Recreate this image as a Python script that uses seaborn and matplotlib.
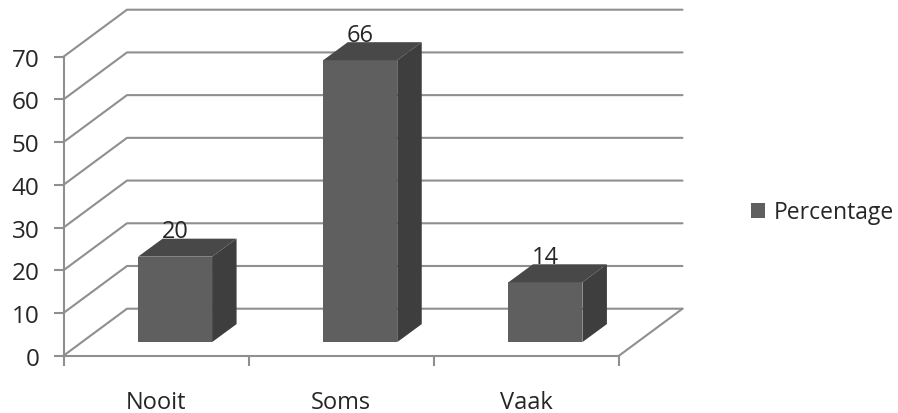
import matplotlib
matplotlib.use("Agg")
import matplotlib.pyplot as plt
from matplotlib.patches import Polygon
import seaborn as sns

categories = ["Nooit", "Soms", "Vaak"]
percentages = [20, 66, 14]
y_ticks = [0, 10, 20, 30, 40, 50, 60, 70]
series_name = "Percentage"

W, H = 898, 414
L, R, B, T = 63.5, 619.0, 356.7, 57.7
px_x = 3 / (R - L)
px_y = 70 / (B - T)
wall_dx, wall_dy = 63.5 * px_x, 47 * px_y
bar_ox, bar_oy = 19 * px_x, 13.6 * px_y
bar_dx, bar_dy = 24.5 * px_x, 18 * px_y
GRID = "#8f8f8f"
TEXT = "#262626"
FRONT, TOP, SIDE = "#5f5f5f", "#484848", "#3e3e3e"

sns.set_theme(style="white")
plt.rcParams["font.family"] = ["Open Sans", "DejaVu Sans"]

fig = plt.figure(figsize=(W / 100, H / 100), dpi=100, facecolor="white")
ax = fig.add_axes([L / W, (H - B) / H, (R - L) / W, (B - T) / H])

sns.barplot(x=categories, y=percentages, width=74 * px_x, color=FRONT,
            saturation=1, ax=ax, label=series_name, zorder=5)
ax.set_xlim(-0.5, 2.5)
ax.set_ylim(0, 70)

# walls: diagonals and back gridlines
for v in y_ticks:
    ax.plot([-0.5, -0.5 + wall_dx, 2.5 + wall_dx], [v, v + wall_dy, v + wall_dy],
            color=GRID, lw=1.5, clip_on=False, zorder=1)
ax.plot([2.5, 2.5 + wall_dx], [0, wall_dy], color=GRID, lw=1.5, clip_on=False, zorder=1)

# bars: shift back into the floor and add the 3D faces
for p, val in zip(ax.patches, percentages):
    p.set_x(p.get_x() + bar_ox)
    p.set_y(bar_oy)
    p.set_clip_on(False)
    p.set_linewidth(0)
    x0, x1 = p.get_x(), p.get_x() + p.get_width()
    y0, y1 = p.get_y(), p.get_y() + p.get_height()
    ax.add_patch(Polygon([(x0, y1), (x1, y1), (x1 + bar_dx, y1 + bar_dy), (x0 + bar_dx, y1 + bar_dy)],
                         fc=TOP, lw=0, clip_on=False, zorder=5))
    ax.add_patch(Polygon([(x1, y0), (x1 + bar_dx, y0 + bar_dy), (x1 + bar_dx, y1 + bar_dy), (x1, y1)],
                         fc=SIDE, lw=0, clip_on=False, zorder=5))
    ax.text((x0 + x1) / 2, y1 + 5.9, str(val), ha="center", va="center",
            fontsize=17, color=TEXT, zorder=3, clip_on=False)

# axes
for s in ["top", "right"]:
    ax.spines[s].set_visible(False)
for s in ["left", "bottom"]:
    ax.spines[s].set_color(GRID)
    ax.spines[s].set_linewidth(1.5)
    ax.spines[s].set_zorder(2)
ax.set_yticks(y_ticks)
ax.tick_params(axis="y", length=7, width=1.5, color=GRID, labelsize=17.5, labelcolor=TEXT, pad=10.5, left=True)
ax.set_xticks([-0.5, 0.5, 1.5, 2.5])
ax.set_xticklabels([])
ax.set_xticks([0, 1, 2], categories, minor=True)
ax.tick_params(axis="x", which="major", length=7, width=1.5, color=GRID, bottom=True)
ax.tick_params(axis="x", which="minor", length=0, labelsize=17, labelcolor=TEXT, pad=24.5)
ax.set_xlabel("")
ax.set_ylabel("")

ax.legend(loc="center left", bbox_to_anchor=(751 / W, (H - 213.5) / H),
          bbox_transform=fig.transFigure, frameon=False, fontsize=16.5,
          labelcolor=TEXT, handlelength=0.62, handleheight=0.62, handletextpad=0.38,
          borderpad=0, borderaxespad=0)

fig.savefig("out.png", dpi=100)
